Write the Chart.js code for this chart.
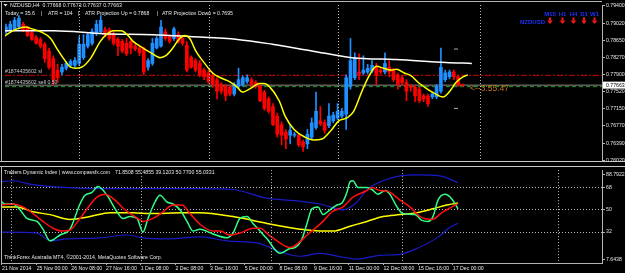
<!DOCTYPE html>
<html>
<head>
<meta charset="utf-8">
<script src="https://cdn.jsdelivr.net/npm/chart.js@4.4.1/dist/chart.umd.min.js"></script>
<style>
  html, body { margin: 0; padding: 0; background: #000; }
  #wrap { position: relative; width: 625px; height: 273px; overflow: hidden; background: #000; }
  .pane { position: absolute; left: 0; width: 625px; }
</style>
</head>
<body>
<div id="wrap">
  <div class="pane" style="top:0;height:166px"><canvas id="main"></canvas></div>
  <div class="pane" style="top:166px;height:107px"><canvas id="sub"></canvas></div>
</div>
<script>
// --- NZDUSD H4 candles (bar 0 = 21 Nov 2014) ---
const OPEN = [0.78833,0.78875,0.78875,0.78938,0.79001,0.78917,0.78812,0.78707,0.78665,0.78560,
  0.78413,0.78245,0.77993,0.77951,0.78035,0.78098,0.78098,0.78140,0.78266,0.78518,
  0.78581,0.78791,0.78833,0.78875,0.78875,0.78791,0.78665,0.78623,0.78581,0.78623,
  0.78518,0.78476,0.78455,0.78056,0.78140,0.78476,0.78518,0.78833,0.78728,0.78686,
  0.78770,0.78686,0.78539,0.78266,0.78203,0.78140,0.77993,0.77930,0.77867,0.77783,
  0.77678,0.77636,0.77615,0.77468,0.77636,0.77678,0.77741,0.77783,0.77720,0.77636,
  0.77510,0.77363,0.77195,0.76985,0.76796,0.76628,0.76565,0.76565,0.76565,0.76418,
  0.76376,0.76523,0.76733,0.76880,0.76838,0.76775,0.76880,0.76943,0.76985,0.77027,
  0.77636,0.77825,0.77951,0.77930,0.77951,0.77972,0.78056,0.77993,0.77951,0.78056,
  0.77993,0.77888,0.77825,0.77720,0.77636,0.77615,0.77573,0.77426,0.77426,0.77405,
  0.77405,0.77531,0.77783,0.77846,0.77951,0.77846,0.77668];
const HIGH = [0.79001,0.79064,0.79148,0.79190,0.79043,0.78959,0.78854,0.78749,0.78707,0.78602,
  0.78476,0.78308,0.78119,0.78119,0.78182,0.78224,0.78266,0.78728,0.78770,0.78812,
  0.78896,0.79085,0.79190,0.78938,0.78917,0.78833,0.78707,0.78665,0.78686,0.78665,
  0.78560,0.78518,0.78497,0.78245,0.78686,0.78728,0.79085,0.78896,0.78770,0.78938,
  0.78833,0.78749,0.78623,0.78308,0.78245,0.78203,0.78035,0.77993,0.77930,0.77825,
  0.77720,0.77678,0.77657,0.77720,0.78035,0.77867,0.77888,0.77825,0.77762,0.77678,
  0.77552,0.77405,0.77258,0.77048,0.76859,0.76691,0.76796,0.76628,0.76607,0.76460,
  0.76691,0.76943,0.77510,0.77195,0.76901,0.77258,0.77069,0.77258,0.77153,0.77888,
  0.78686,0.78371,0.78350,0.78308,0.78119,0.78203,0.78140,0.78056,0.78371,0.78203,
  0.78035,0.77930,0.77867,0.77783,0.77678,0.77657,0.77615,0.77468,0.77468,0.77510,
  0.77678,0.78476,0.77993,0.77993,0.77993,0.77888,0.77673];
const LOW = [0.78791,0.78833,0.78854,0.78896,0.78833,0.78728,0.78644,0.78560,0.78476,0.78161,
  0.78014,0.77678,0.77720,0.77888,0.77993,0.78056,0.78056,0.78098,0.78224,0.78476,
  0.78539,0.78749,0.78812,0.78728,0.78644,0.78539,0.78308,0.78371,0.78308,0.78350,
  0.78413,0.78308,0.77888,0.77993,0.78098,0.78455,0.78497,0.78644,0.78581,0.78644,
  0.78581,0.78539,0.77951,0.78035,0.77951,0.77846,0.77783,0.77699,0.77615,0.77363,
  0.77468,0.77321,0.77426,0.77426,0.77594,0.77636,0.77699,0.77636,0.77594,0.77300,
  0.77111,0.77048,0.76775,0.76523,0.76355,0.76271,0.76376,0.76523,0.76313,0.76208,
  0.76271,0.76481,0.76691,0.76775,0.76607,0.76733,0.76838,0.76901,0.76943,0.76691,
  0.77573,0.77783,0.77783,0.77888,0.77909,0.77930,0.77678,0.77909,0.77909,0.77846,
  0.77741,0.77573,0.77657,0.77321,0.77531,0.77300,0.77279,0.77300,0.77195,0.77363,
  0.77363,0.77489,0.77741,0.77804,0.77783,0.77636,0.77637];
const CLOSE = [0.78938,0.79001,0.79085,0.79127,0.78875,0.78749,0.78665,0.78581,0.78518,0.78245,
  0.78056,0.77783,0.77825,0.78056,0.78140,0.78182,0.78203,0.78560,0.78560,0.78770,
  0.78833,0.79001,0.79085,0.78770,0.78686,0.78581,0.78518,0.78413,0.78350,0.78476,
  0.78455,0.78371,0.77951,0.78203,0.78581,0.78686,0.78938,0.78686,0.78623,0.78896,
  0.78623,0.78581,0.77993,0.78056,0.77993,0.77888,0.77846,0.77741,0.77678,0.77531,
  0.77531,0.77426,0.77468,0.77678,0.77783,0.77825,0.77825,0.77678,0.77636,0.77321,
  0.77153,0.77090,0.76796,0.76586,0.76565,0.76481,0.76670,0.76586,0.76355,0.76313,
  0.76586,0.76838,0.77090,0.76817,0.76670,0.76985,0.77006,0.77090,0.77090,0.77825,
  0.78203,0.78266,0.77888,0.77993,0.78035,0.78098,0.77888,0.77951,0.78140,0.77951,
  0.77783,0.77678,0.77720,0.77531,0.77615,0.77426,0.77321,0.77363,0.77258,0.77468,
  0.77636,0.78056,0.77930,0.77951,0.77846,0.77678,0.77663];

const PRICE_TICKS = [0.79400, 0.79020, 0.78650, 0.78270, 0.77900, 0.77520, 0.77150, 0.76770, 0.76390, 0.76020];
const TIME_LABELS = ['21 Nov 2014', '25 Nov 00:00', '26 Nov 08:00', '27 Nov 16:00', '1 Dec 08:00', '2 Dec 08:00',
  '3 Dec 16:00', '5 Dec 00:00', '8 Dec 08:00', '9 Dec 16:00', '11 Dec 00:00', '12 Dec 08:00', '15 Dec 16:00', '17 Dec 00:00'];
const TIME_LABEL_STEP = 8;   // bars between time labels

// moving averages drawn on price: [bar, price]
const MA_FAST = [[-0.46,0.78728],[1.15,0.78833],[2.54,0.78896],[4.61,0.78938],[6.00,0.78896],[8.07,0.78833],
  [10.38,0.78686],[11.76,0.78476],[13.38,0.78245],[15.00,0.78056],[16.15,0.78035],[17.53,0.78056],[19.61,0.78245],
  [21.91,0.78623],[23.30,0.78770],[24.91,0.78854],[26.76,0.78854],[28.14,0.78770],[29.53,0.78623],[31.83,0.78476],
  [33.68,0.78371],[35.76,0.78266],[37.14,0.78308],[38.75,0.78476],[40.14,0.78665],[41.52,0.78749],[42.68,0.78686],
  [44.06,0.78413],[46.14,0.78140],[47.98,0.77930],[49.83,0.77825],[51.90,0.77741],[53.75,0.77615],[54.90,0.77510],
  [57.21,0.77615],[58.82,0.77699],[59.98,0.77699],[61.13,0.77636],[63.44,0.77321],[64.82,0.76985],[66.90,0.76691],
  [69.43,0.76523],[71.50,0.76460],[73.36,0.76481],[75.66,0.76691],[77.28,0.76880],[79.12,0.76943],[80.74,0.77090],
  [82.58,0.77510],[84.20,0.77846],[86.04,0.78077],[87.66,0.78035],[89.50,0.77993],[90.66,0.78014],[92.50,0.77930],
  [94.12,0.77867],[95.73,0.77720],[97.58,0.77594],[99.42,0.77489],[101.50,0.77405],[102.88,0.77510],[104.50,0.77720],
  [106.11,0.77846],[107.27,0.77888]];
const MA_SLOW = [[-0.46,0.78854],[11.07,0.78854],[22.61,0.78791],[34.14,0.78770],[42.68,0.78728],[53.75,0.78665],
  [61.82,0.78560],[71.05,0.78413],[80.28,0.78266],[90.66,0.78224],[102.19,0.78161],[108.19,0.78140]];

// open order + ATR projection marks
const TICKET = '1874435602';
const LOTS = '0.50';
const SL_PRICE = 0.77878;
const ENTRY_PRICE = 0.77630;
const ATR_MARK_BAR = 104.5;
const ATR_MARKS = [0.78455, 0.77153];
const TODAY = '35.6', ATR = '104', ATR_UP = '0.7868', ATR_DOWN = '0.7695';
const MTF_LABELS = ['M15', 'H1', 'H4', 'D1', 'W1'];

// Traders Dynamic Index: [bar, value]
const TDI_UPPER = [[-0.46,72.7],[2.54,73.5],[7.15,70.3],[15.0,68.0],[22.6,67.2],[31.8,67.2],[45.7,67.2],[53.3,66.4],
  [61.1,59.4],[68.7,57.0],[73.4,54.7],[78.7,50.0],[81.9,56.3],[84.2,66.4],[87.9,73.5],[91.8,77.4],[95.7,78.2],
  [101.0,77.4],[105.2,71.85]];
const TDI_LOWER = [[-0.46,32.0],[8.07,31.2],[11.07,24.9],[15.0,26.5],[22.6,27.3],[28.8,29.6],[32.5,27.3],[38.1,26.5],
  [45.7,28.1],[51.9,24.9],[59.5,22.6],[63.4,17.1],[68.7,12.4],[73.4,14.8],[78.7,11.6],[81.9,10.1],[87.2,13.2],
  [91.8,14.0],[95.7,18.7],[101.0,28.9],[102.7,34.3],[105.2,39.12]];
const TDI_RSI = [[-0.46,57.8],[0.69,54.7],[2.54,54.7],[4.15,50.0],[5.77,43.0],[8.07,40.6],[9.46,34.3],[11.07,24.9],
  [13.38,29.6],[15.69,34.3],[17.99,54.7],[19.15,61.7],[20.76,64.1],[22.15,68.8],[24.22,61.7],[26.53,48.4],[27.91,43.0],
  [29.53,44.5],[31.14,43.0],[32.53,32.0],[33.68,43.0],[35.29,56.3],[36.45,61.7],[38.06,56.3],[39.45,54.7],[41.06,50.0],
  [42.68,40.6],[44.06,32.8],[45.67,34.3],[48.67,30.4],[51.90,27.3],[53.29,31.2],[54.90,43.0],[56.52,44.5],[57.90,39.0],
  [59.52,32.8],[61.13,26.5],[64.13,14.8],[66.44,18.7],[67.59,19.5],[69.20,26.5],[70.36,39.0],[71.50,50.8],[72.90,52.3],
  [74.05,46.1],[75.66,50.0],[77.28,53.9],[78.43,55.5],[79.58,64.1],[80.28,72.7],[80.97,73.5],[82.12,68.0],[84.20,68.0],
  [85.35,66.4],[86.74,62.5],[88.35,65.6],[89.50,62.5],[91.12,52.3],[92.50,46.9],[95.27,46.1],[96.89,41.4],[98.27,40.6],
  [99.42,44.5],[100.58,57.8],[102.19,62.5],[103.81,58.6],[105.20,50.77]];
const TDI_SIGNAL = [[-0.46,53.9],[2.54,54.7],[4.84,52.3],[7.15,46.9],[9.46,40.6],[11.76,35.1],[13.84,32.8],[15.69,33.6],
  [17.99,43.0],[20.30,53.9],[21.91,60.2],[23.76,62.5],[26.07,57.8],[28.37,50.0],[30.68,44.5],[32.53,40.6],[34.83,43.0],
  [37.14,48.4],[39.45,53.9],[41.52,53.9],[43.37,46.9],[45.67,38.3],[48.67,32.8],[50.29,32.8],[52.60,29.6],[54.90,31.2],
  [57.90,35.1],[59.52,35.1],[61.82,28.9],[63.44,24.9],[66.44,19.5],[68.74,24.2],[70.36,29.6],[71.74,33.6],[74.05,40.6],
  [76.12,48.4],[78.66,52.3],[80.97,60.2],[84.20,65.6],[85.35,68.0],[87.20,65.6],[89.04,64.9],[91.81,57.8],[94.12,52.3],
  [96.42,44.5],[99.19,42.2],[101.73,48.4],[103.81,52.3],[105.20,55.03]];
const TDI_BASE = [[-0.46,52.3],[3.46,52.3],[7.15,48.4],[11.07,46.1],[15.69,42.2],[20.30,44.5],[24.91,47.7],[30.22,47.7],
  [34.14,46.9],[41.75,47.7],[45.67,47.7],[53.29,44.5],[61.13,39.0],[68.74,34.3],[73.36,32.8],[76.36,32.8],[80.28,36.7],
  [84.20,40.6],[87.89,44.5],[91.81,46.1],[95.73,47.7],[99.42,50.8],[102.65,53.9],[105.20,55.49]];
const TDI_LEVELS = [32, 50, 68];
const TDI_EDGE_LABELS = ['7.6438', '88.7922'];
const TDI_VALUES = '71.8508 55.4855 39.1203 50.7700 55.0331';

// --- look ---
const FONT = '"Liberation Sans", Arial, sans-serif';
const TXT = '#e6e6e6';
const FRAME = '#b4b4b4';
const DOT = '#bcbcbc';
const X_MIN = -0.23, X_MAX = 138.41;          // bar range across the plot
const VGRID = [2.08, 32.2, 62.2, 92.3, 128.3]; // vertical grid (bars)

Chart.defaults.font.family = FONT;

const last = CLOSE.length - 1;
const bars = OPEN.map((_, i) => i);
const candleColor = bars.map(i => CLOSE[i] < OPEN[i] ? '#ff0000' : '#1e90ff');
const pts = arr => arr.map(([x, y]) => ({ x, y }));
const hline = v => [{ x: X_MIN, y: v }, { x: X_MAX, y: v }];

const gridAxis = () => ({
  type: 'linear', min: X_MIN, max: X_MAX, offset: false, position: 'bottom',
  afterBuildTicks: s => { s.ticks = VGRID.map(v => ({ value: v })); },
  afterFit: s => { s.height = 0; },
  ticks: { display: false },
  grid: { color: DOT, lineWidth: 1, drawTicks: false, z: 1 },
  border: { display: false, dash: [1, 2] },
});

const blackBg = {
  id: 'blackBg',
  beforeDraw(chart) {
    const { ctx, width, height } = chart;
    ctx.save();
    ctx.fillStyle = '#000';
    ctx.fillRect(0, 0, width, height);
    ctx.restore();
  },
};

const mainOverlay = {
  id: 'mainOverlay',
  afterDraw(chart) {
    const { ctx, chartArea: a, scales: { y } } = chart;
    ctx.save();
    // frame
    ctx.fillStyle = FRAME;
    ctx.fillRect(0, 1, a.right, 1);
    ctx.fillRect(1, 1, 1, a.bottom);
    ctx.fillStyle = '#c8c8c8';
    ctx.fillRect(0, a.bottom, chart.width, 1);

    ctx.textBaseline = 'middle';
    ctx.font = `5.2px ${FONT}`;
    ctx.fillStyle = TXT;
    // title
    ctx.beginPath();
    ctx.moveTo(3.5, 4); ctx.lineTo(7.5, 4); ctx.lineTo(5.5, 6.5); ctx.closePath(); ctx.fill();
    const ohlc = [OPEN[last], HIGH[last], LOW[last], CLOSE[last]].map(v => v.toFixed(5)).join(' ');
    ctx.fillText(`NZDUSD,H4  ${ohlc}`, 10, 5.5);
    ctx.fillText(`Today = ${TODAY}`, 5, 13.5);
    ctx.fillText('|', 41, 13.5);
    ctx.fillText(`ATR = ${ATR}`, 48, 13.5);
    ctx.fillText('|', 78, 13.5);
    ctx.fillText(`ATR Projection Up = ${ATR_UP}`, 85, 13.5);
    ctx.fillText('|', 157, 13.5);
    ctx.fillText(`ATR Projection Down = ${ATR_DOWN}`, 162, 13.5);

    // order labels
    ctx.fillStyle = '#c8c8c8';
    ctx.fillText(`#${TICKET} sl`, 5, y.getPixelForValue(SL_PRICE) - 3.8);
    ctx.fillText(`#${TICKET} sell ${LOTS}`, 5, y.getPixelForValue(ENTRY_PRICE) - 3.6);

    // bar countdown
    const bidY = y.getPixelForValue(CLOSE[last]);
    ctx.font = `8.5px ${FONT}`;
    ctx.fillStyle = '#c8701e';
    ctx.fillText('<--3:55:47', 470, bidY + 4);

    // multi-timeframe panel
    const mx = [550, 562.5, 573.5, 584, 594.5];
    ctx.font = `bold 6px ${FONT}`;
    ctx.fillStyle = '#1e32ff';
    ctx.textAlign = 'center';
    MTF_LABELS.forEach((t, k) => ctx.fillText(t, mx[k], 14));
    ctx.textAlign = 'right';
    ctx.fillText('NZDUSD', 545, 22);
    ctx.fillStyle = '#ff1a1a';
    mx.forEach(x => {
      ctx.fillRect(x - 1, 17.5, 2, 3);
      ctx.beginPath();
      ctx.moveTo(x - 2.8, 20.5); ctx.lineTo(x + 2.8, 20.5); ctx.lineTo(x, 24); ctx.closePath(); ctx.fill();
    });

    // current price box
    ctx.textAlign = 'left';
    ctx.fillStyle = '#ffffff';
    ctx.fillRect(a.right + 1, bidY - 3.5, chart.width - a.right - 1, 7);
    ctx.fillStyle = '#000';
    ctx.font = `5.2px ${FONT}`;
    ctx.fillText(CLOSE[last].toFixed(5), a.right + 4, bidY + 0.3);
    ctx.restore();
  },
};

const subOverlay = {
  id: 'subOverlay',
  afterDraw(chart) {
    const { ctx, chartArea: a } = chart;
    ctx.save();
    ctx.fillStyle = '#c8c8c8';
    ctx.fillRect(0, 0, chart.width, 1);
    ctx.fillStyle = FRAME;
    ctx.fillRect(1, 0, 1, a.bottom);
    ctx.textBaseline = 'middle';
    ctx.font = `5.2px ${FONT}`;
    ctx.fillStyle = TXT;
    ctx.fillText('Traders Dynamic Index | www.compassfx.com', 4, 7);
    ctx.fillText(TDI_VALUES, 115, 7);
    ctx.fillText('ThinkForex Australia MT4, \u00a92001-2014, MetaQuotes Software Corp.', 4, 92);
    ctx.restore();
  },
};

// --- price pane ---
new Chart(document.getElementById('main'), {
  type: 'line',
  data: {
    datasets: [
      { data: hline(SL_PRICE), borderColor: '#d40000', borderWidth: 1, borderDash: [6, 2, 2, 2], pointRadius: 0, order: 10 },
      { data: hline(ENTRY_PRICE), borderColor: '#22a022', borderWidth: 1, borderDash: [4, 3], pointRadius: 0, order: 10 },
      { data: hline(CLOSE[last]), borderColor: '#8c8c8c', borderWidth: 1, pointRadius: 0, order: 9 },
      { type: 'bar', data: bars.map(i => ({ x: i, y: [LOW[i], HIGH[i]] })), backgroundColor: candleColor,
        barThickness: 1, grouped: false, order: 6 },
      { type: 'bar', data: bars.map(i => ({ x: i, y: [OPEN[i], CLOSE[i]] })), backgroundColor: candleColor,
        barThickness: 3, minBarLength: 1, grouped: false, order: 5 },
      { data: pts(MA_SLOW), borderColor: '#ffffff', borderWidth: 1.5, pointRadius: 0,
        cubicInterpolationMode: 'monotone', order: 2 },
      { data: pts(MA_FAST), borderColor: '#ffff00', borderWidth: 1.5, pointRadius: 0,
        cubicInterpolationMode: 'monotone', order: 1 },
      { type: 'scatter', data: ATR_MARKS.map(p => ({ x: ATR_MARK_BAR, y: p })), pointStyle: 'line',
        pointRadius: 2, borderColor: '#b0b0b0', borderWidth: 1, order: 0 },
    ],
  },
  options: {
    responsive: true, maintainAspectRatio: false, animation: false, events: [],
    layout: { padding: { left: 1, top: 2, bottom: 1, right: 0 } },
    plugins: { legend: { display: false }, tooltip: { enabled: false } },
    scales: {
      x: gridAxis(),
      y: {
        position: 'right', min: 0.76, max: 0.7942,
        afterBuildTicks: s => { s.ticks = PRICE_TICKS.map(v => ({ value: v })); },
        afterFit: s => { s.width = 23; },
        ticks: { color: TXT, font: { size: 5.2 }, padding: 1, callback: v => v.toFixed(5) },
        grid: { drawOnChartArea: false, drawTicks: true, tickLength: 3, tickColor: FRAME },
        border: { display: true, color: FRAME },
      },
    },
  },
  plugins: [blackBg, mainOverlay],
});

// --- TDI pane ---
const tdiLine = (data, color, width, order) => ({
  data: pts(data), borderColor: color, borderWidth: width, pointRadius: 0,
  cubicInterpolationMode: 'monotone', order,
});

new Chart(document.getElementById('sub'), {
  type: 'line',
  data: {
    datasets: [
      tdiLine(TDI_UPPER, '#1a1ac8', 1.2, 5),
      tdiLine(TDI_LOWER, '#1a1ac8', 1.2, 5),
      tdiLine(TDI_BASE, '#ffff00', 1.5, 3),
      tdiLine(TDI_RSI, '#33ff88', 1.5, 2),
      tdiLine(TDI_SIGNAL, '#ff1010', 1.5, 1),
    ],
  },
  options: {
    responsive: true, maintainAspectRatio: false, animation: false, events: [],
    layout: { padding: { left: 1, top: 1, bottom: 0, right: 0 } },
    plugins: { legend: { display: false }, tooltip: { enabled: false } },
    scales: {
      x: gridAxis(),
      xl: {
        type: 'linear', min: X_MIN, max: X_MAX, offset: false, position: 'bottom',
        afterBuildTicks: s => { s.ticks = TIME_LABELS.map((_, k) => ({ value: k * TIME_LABEL_STEP })); },
        afterFit: s => { s.height = 10; },
        ticks: { color: TXT, font: { size: 5.2 }, align: 'start', padding: 0, maxRotation: 0, autoSkip: false,
          callback: (v, k) => TIME_LABELS[k] },
        grid: { drawOnChartArea: false, drawTicks: true, tickLength: 2, tickColor: FRAME },
        border: { display: true, color: FRAME },
      },
      y: {
        position: 'right', min: 6.96, max: 82.09,
        afterBuildTicks: s => {
          s.ticks = [s.min + 3.13, ...TDI_LEVELS, s.max - 3.68].map(v => ({ value: v }));
        },
        afterFit: s => { s.width = 23; },
        ticks: {
          color: TXT, font: { size: 5.2 }, padding: 1,
          callback: (v, k, t) => k === 0 ? TDI_EDGE_LABELS[0] : (k === t.length - 1 ? TDI_EDGE_LABELS[1] : String(v)),
        },
        grid: {
          color: c => (c.tick && TDI_LEVELS.includes(c.tick.value)) ? DOT : 'rgba(0,0,0,0)',
          drawTicks: true, tickLength: 3, tickColor: FRAME,
        },
        border: { display: true, color: FRAME, dash: [1, 2] },
      },
    },
  },
  plugins: [blackBg, subOverlay],
});
</script>
</body>
</html>
